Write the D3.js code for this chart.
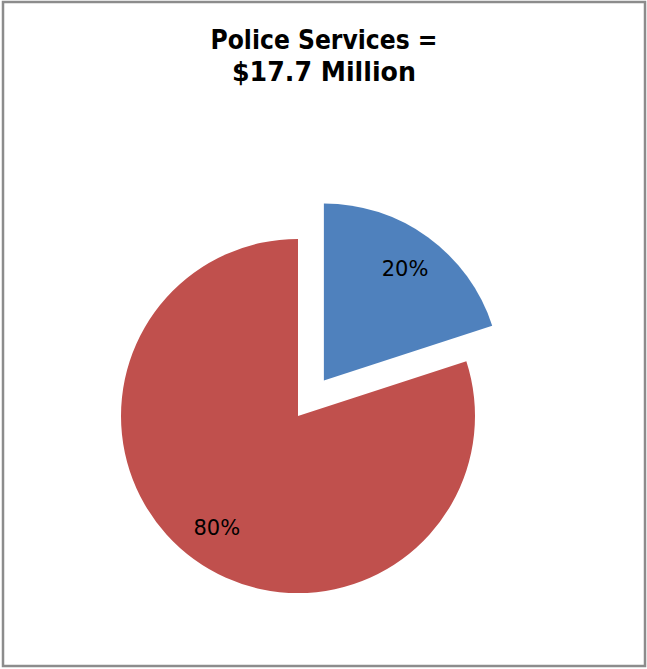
<!DOCTYPE html>
<html>
<head>
<script src="https://cdn.jsdelivr.net/npm/d3@7"></script>
<style>
	body { margin: 0; background: #fff; }
	svg { display: block; }
	.title { font: bold 27px "DejaVu Sans", sans-serif; fill: #000; }
	.label { font: 21px "DejaVu Sans", sans-serif; fill: #000; }
</style>
</head>
<body>
<script>
var titleLines = ["Police Services =", "$17.7 Million"];
var titleWidths = [227, 184];
var categories = ["A", "B"];
var values = [20, 80];
var pctLabels = ["20%", "80%"];
var colors = ["#4f81bd", "#c0504d"];
var exploded = [true, false];

var w = 647, h = 669;
var cx = 298, cy = 416, r = 177, explode = 44;

var svg = d3.select("body").append("svg")
	.attr("width", w)
	.attr("height", h);

svg.append("rect")
	.attr("x", 3).attr("y", 2)
	.attr("width", 642).attr("height", 664)
	.attr("fill", "#fff")
	.attr("stroke", "#8c8c8c")
	.attr("stroke-width", 2.5);

svg.selectAll("text.title")
	.data(titleLines)
	.enter().append("text")
	.attr("class", "title")
	.attr("x", 324)
	.attr("y", function (d, i) { return 49 + i * 32; })
	.attr("text-anchor", "middle")
	.attr("textLength", function (d, i) { return titleWidths[i]; })
	.attr("lengthAdjust", "spacingAndGlyphs")
	.text(function (d) { return d; });

var pie = d3.pie().sort(null).value(function (d) { return d; });
var arcs = pie(values);
var arc = d3.arc().innerRadius(0).outerRadius(r);

var g = svg.append("g").attr("transform", "translate(" + cx + "," + cy + ")");

var slice = g.selectAll("g.slice")
	.data(arcs)
	.enter().append("g")
	.attr("class", "slice")
	.attr("transform", function (d, i) {
		if (!exploded[i]) return null;
		var a = (d.startAngle + d.endAngle) / 2;
		return "translate(" + (Math.sin(a) * explode) + "," + (-Math.cos(a) * explode) + ")";
	});

slice.append("path")
	.attr("d", arc)
	.attr("fill", function (d, i) { return colors[i]; });

// labels sit about three quarters of the way out along the mid angle
var labelArc = d3.arc().innerRadius(r * 0.78).outerRadius(r * 0.78);
slice.append("text")
	.attr("class", "label")
	.attr("text-anchor", "middle")
	.attr("dy", "0.35em")
	.attr("transform", function (d) { return "translate(" + labelArc.centroid(d) + ")"; })
	.text(function (d, i) { return pctLabels[i]; });
</script>
</body>
</html>
